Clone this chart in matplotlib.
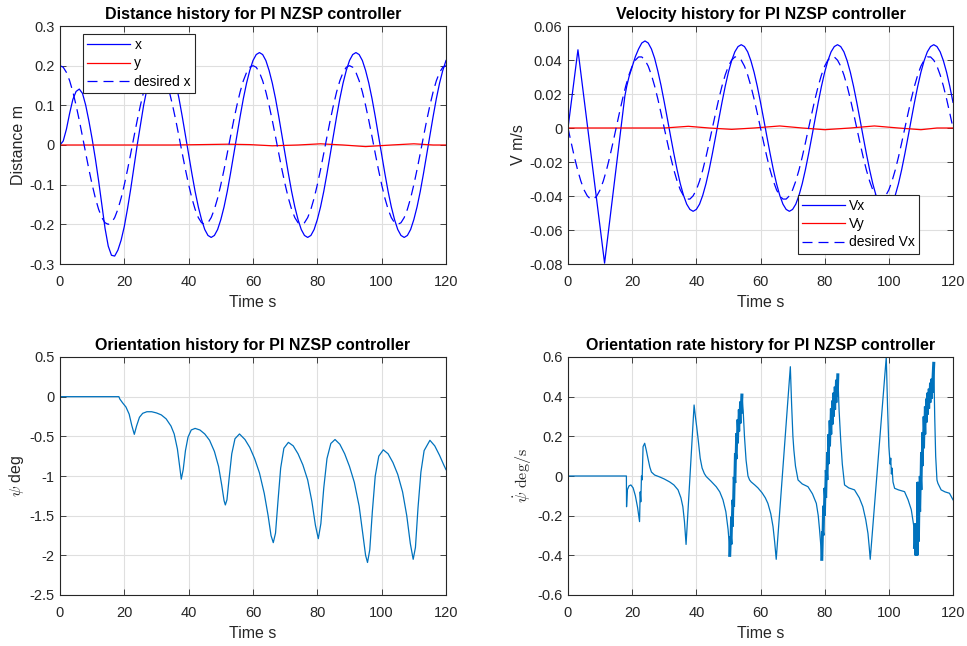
import numpy as np
import matplotlib
matplotlib.use('Agg')
import matplotlib.pyplot as plt
from matplotlib.ticker import FormatStrFormatter

plt.rcParams['font.family'] = ['Liberation Sans', 'DejaVu Sans']
plt.rcParams['mathtext.fontset'] = 'cm'
plt.rcParams['axes.unicode_minus'] = False

# ---- data ----
t_sec = np.arange(0, 121)  # 1 s grid, 0..120

x_pos = [
    0.000, 0.010, 0.040, 0.080, 0.115, 0.135, 0.141, 0.130, 0.100, 0.060,
    0.015, -0.035, -0.090, -0.150, -0.210, -0.255, -0.278, -0.280, -0.265, -0.240,
    -0.205, -0.160, -0.110, -0.055, 0.000, 0.050, 0.100, 0.140, 0.175, 0.205,
    0.223, 0.232, 0.233, 0.228, 0.213, 0.188, 0.156, 0.117, 0.072, 0.024,
    -0.024, -0.072, -0.117, -0.156, -0.188, -0.213, -0.228, -0.233, -0.228, -0.213,
    -0.188, -0.156, -0.117, -0.072, -0.024, 0.024, 0.072, 0.117, 0.156, 0.188,
    0.213, 0.228, 0.233, 0.228, 0.213, 0.188, 0.156, 0.117, 0.072, 0.024,
    -0.024, -0.072, -0.117, -0.156, -0.188, -0.213, -0.228, -0.233, -0.228, -0.213,
    -0.188, -0.156, -0.117, -0.072, -0.024, 0.024, 0.072, 0.117, 0.156, 0.188,
    0.213, 0.228, 0.233, 0.228, 0.213, 0.188, 0.156, 0.117, 0.072, 0.024,
    -0.024, -0.072, -0.117, -0.156, -0.188, -0.213, -0.228, -0.233, -0.228, -0.213,
    -0.188, -0.156, -0.117, -0.072, -0.024, 0.024, 0.072, 0.117, 0.156, 0.188,
    0.213]

x_des = [
    0.200, 0.196, 0.183, 0.162, 0.134, 0.100, 0.062, 0.021, -0.021, -0.062,
    -0.100, -0.134, -0.162, -0.183, -0.196, -0.200, -0.196, -0.183, -0.162, -0.134,
    -0.100, -0.062, -0.021, 0.021, 0.062, 0.100, 0.134, 0.162, 0.183, 0.196,
    0.200, 0.196, 0.183, 0.162, 0.134, 0.100, 0.062, 0.021, -0.021, -0.062,
    -0.100, -0.134, -0.162, -0.183, -0.196, -0.200, -0.196, -0.183, -0.162, -0.134,
    -0.100, -0.062, -0.021, 0.021, 0.062, 0.100, 0.134, 0.162, 0.183, 0.196,
    0.200, 0.196, 0.183, 0.162, 0.134, 0.100, 0.062, 0.021, -0.021, -0.062,
    -0.100, -0.134, -0.162, -0.183, -0.196, -0.200, -0.196, -0.183, -0.162, -0.134,
    -0.100, -0.062, -0.021, 0.021, 0.062, 0.100, 0.134, 0.162, 0.183, 0.196,
    0.200, 0.196, 0.183, 0.162, 0.134, 0.100, 0.062, 0.021, -0.021, -0.062,
    -0.100, -0.134, -0.162, -0.183, -0.196, -0.200, -0.196, -0.183, -0.162, -0.134,
    -0.100, -0.062, -0.021, 0.021, 0.062, 0.100, 0.134, 0.162, 0.183, 0.196,
    0.200]

y_pts = [(0, 0.0), (20, 0.0), (35, 0.0), (44, 0.001), (52, 0.002), (59, 0.001),
         (66, -0.002), (74, 0.0), (81, 0.003), (88, 0.0), (95, -0.004),
         (103, 0.0), (110, 0.003), (116, 0.0), (120, 0.0)]

# Vx: sharp start, then 1 s samples from t=19
vx_t = [0, 3.1, 11.4, 17.7, 18.3] + list(range(19, 121))
vx = [0.0, 0.046, -0.0795, 0.0185, 0.0245,
      0.030, 0.036, 0.042, 0.0465, 0.050,
      0.0512, 0.050, 0.0465, 0.041, 0.0335, 0.025, 0.0153, 0.0052, -0.0051, -0.0151,
      -0.0245, -0.0328, -0.0396, -0.0448, -0.0479,
      -0.049, -0.0479, -0.0448, -0.0396, -0.0328, -0.0245, -0.0151, -0.0051, 0.0051, 0.0151,
      0.0245, 0.0328, 0.0396, 0.0448, 0.0479,
      0.049, 0.0479, 0.0448, 0.0396, 0.0328, 0.0245, 0.0151, 0.0051, -0.0051, -0.0151,
      -0.0245, -0.0328, -0.0396, -0.0448, -0.0479,
      -0.049, -0.0479, -0.0448, -0.0396, -0.0328, -0.0245, -0.0151, -0.0051, 0.0051, 0.0151,
      0.0245, 0.0328, 0.0396, 0.0448, 0.0479,
      0.049, 0.0479, 0.0448, 0.0396, 0.0328, 0.0245, 0.0151, 0.0051, -0.0051, -0.0151,
      -0.0245, -0.0328, -0.0396, -0.0448, -0.0479,
      -0.049, -0.0479, -0.0448, -0.0396, -0.0328, -0.0245, -0.0151, -0.0051, 0.0051, 0.0151,
      0.0245, 0.0328, 0.0396, 0.0448, 0.0479,
      0.049, 0.0479, 0.0448, 0.0396, 0.0328, 0.0245, 0.0151]

vx_des = [
    0.0, -0.0087, -0.0171, -0.0247, -0.0312, -0.0364, -0.0399, -0.0418, -0.0418, -0.0399,
    -0.0364, -0.0312, -0.0247, -0.0171, -0.0087, 0.0, 0.0087, 0.0171, 0.0247, 0.0312,
    0.0364, 0.0399, 0.0418, 0.0418, 0.0399, 0.0364, 0.0312, 0.0247, 0.0171, 0.0087,
    0.0, -0.0087, -0.0171, -0.0247, -0.0312, -0.0364, -0.0399, -0.0418, -0.0418, -0.0399,
    -0.0364, -0.0312, -0.0247, -0.0171, -0.0087, 0.0, 0.0087, 0.0171, 0.0247, 0.0312,
    0.0364, 0.0399, 0.0418, 0.0418, 0.0399, 0.0364, 0.0312, 0.0247, 0.0171, 0.0087,
    0.0, -0.0087, -0.0171, -0.0247, -0.0312, -0.0364, -0.0399, -0.0418, -0.0418, -0.0399,
    -0.0364, -0.0312, -0.0247, -0.0171, -0.0087, 0.0, 0.0087, 0.0171, 0.0247, 0.0312,
    0.0364, 0.0399, 0.0418, 0.0418, 0.0399, 0.0364, 0.0312, 0.0247, 0.0171, 0.0087,
    0.0, -0.0087, -0.0171, -0.0247, -0.0312, -0.0364, -0.0399, -0.0418, -0.0418, -0.0399,
    -0.0364, -0.0312, -0.0247, -0.0171, -0.0087, 0.0, 0.0087, 0.0171, 0.0247, 0.0312,
    0.0364, 0.0399, 0.0418, 0.0418, 0.0399, 0.0364, 0.0312, 0.0247, 0.0171, 0.0087,
    0.0]

vy_pts = [(0, 0.0), (20, 0.0), (30, 0.0), (37.5, 0.001), (44, 0.0), (51, -0.0008),
          (58, 0.0), (66, 0.0012), (73, 0.0), (80, -0.001), (88, 0.0), (95.5, 0.0012),
          (103, 0.0), (110, -0.001), (115, 0.0), (120, 0.0)]

psi_pts = [
    (0, 0.0), (18.3, 0.0), (18.6, -0.03), (19.5, -0.08), (20.5, -0.13), (21.5, -0.22),
    (22.3, -0.36), (23.1, -0.475), (23.8, -0.37), (24.7, -0.26), (25.7, -0.21), (27, -0.19),
    (28.5, -0.19), (30, -0.205), (31.5, -0.23), (33, -0.28), (34.5, -0.37), (35.5, -0.47),
    (36.5, -0.66), (37.2, -0.88), (37.7, -1.04), (38.3, -0.92), (39, -0.68), (39.8, -0.51),
    (40.8, -0.42), (42, -0.40), (43.5, -0.42), (45, -0.47), (46.5, -0.55), (48, -0.69),
    (49.3, -0.88), (50.3, -1.12), (51, -1.31), (51.4, -1.365), (51.9, -1.30), (52.6, -1.02),
    (53.4, -0.72), (54.4, -0.53), (55.8, -0.47), (57.5, -0.54), (59, -0.64), (60.5, -0.78),
    (62, -0.96), (63.5, -1.22), (64.7, -1.50), (65.6, -1.75), (66.3, -1.84), (67, -1.72),
    (67.8, -1.30), (68.6, -0.90), (69.6, -0.65), (71, -0.576), (72.5, -0.62), (74, -0.72),
    (75.5, -0.86), (77, -1.05), (78.3, -1.32), (79.4, -1.62), (80.3, -1.79), (81.1, -1.60),
    (82, -1.15), (83, -0.78), (84.2, -0.59), (85.5, -0.54), (87, -0.60), (88.5, -0.72),
    (90, -0.88), (91.5, -1.08), (93, -1.38), (94.2, -1.75), (95, -2.00), (95.6, -2.09),
    (96.3, -1.93), (97.1, -1.45), (98, -1.00), (99.1, -0.75), (100.5, -0.67), (102, -0.72),
    (103.5, -0.83), (105, -0.98), (106.5, -1.20), (107.8, -1.50), (108.9, -1.85),
    (109.8, -2.05), (110.5, -1.90), (111.3, -1.40), (112.2, -0.95), (113.2, -0.68),
    (115, -0.55), (116.5, -0.62), (118, -0.74), (119.3, -0.86), (120, -0.92)]

# orientation rate, smooth parts
psid_a = [
    (0, 0.0), (18.2, 0.0), (18.25, -0.155), (18.5, -0.07), (19.0, -0.05), (19.6, -0.045),
    (20.3, -0.06), (21.0, -0.10), (21.7, -0.16), (22.3, -0.23), (22.5, -0.08), (22.7, -0.13),
    (22.9, 0.0), (23.1, -0.02), (23.4, 0.148), (23.9, 0.165), (24.4, 0.13), (24.9, 0.09),
    (25.5, 0.045), (26.0, 0.02), (27.0, 0.005), (28.6, -0.005), (30.0, -0.015), (31.7, -0.03),
    (33.0, -0.045), (34.3, -0.07), (35.2, -0.11), (35.8, -0.155), (36.3, -0.23), (36.8, -0.345),
    (39.3, 0.358), (39.7, 0.30), (40.1, 0.25), (40.6, 0.18), (41.2, 0.09), (41.8, 0.04),
    (42.5, 0.012), (43.1, -0.003), (44.5, -0.025), (46.2, -0.054), (47.3, -0.08),
    (48.3, -0.12), (49.2, -0.18), (49.9, -0.27), (50.2, -0.33)]
psid_b = [
    (54.6, 0.33), (55.0, 0.20), (55.5, 0.08), (56.1, 0.0), (56.6, -0.02), (57.1, -0.03),
    (58.2, -0.045), (59.2, -0.06), (60.5, -0.085), (61.5, -0.11), (62.3, -0.138),
    (63.2, -0.19), (63.9, -0.255), (64.4, -0.33), (64.9, -0.42),
    (69.3, 0.551), (69.7, 0.36), (70.1, 0.20), (70.4, 0.131), (70.9, 0.05), (71.7, -0.02),
    (73.0, -0.04), (74.8, -0.054), (76.2, -0.09), (77.4, -0.138), (78.0, -0.20),
    (78.4, -0.27), (78.8, -0.35)]
psid_c = [
    (84.5, 0.33), (85.0, 0.18), (85.5, 0.06), (86.2, -0.045), (87.5, -0.06), (89.3, -0.07),
    (90.8, -0.11), (91.9, -0.155), (92.8, -0.22), (93.5, -0.29), (93.9, -0.36), (94.2, -0.42),
    (99.2, 0.60), (99.6, 0.35), (100.0, 0.15), (100.4, 0.06), (100.6, 0.09), (100.8, 0.01),
    (101.0, 0.04), (101.3, -0.03), (101.8, -0.062), (103.0, -0.07), (104.9, -0.079),
    (106.0, -0.12), (107.0, -0.17), (107.8, -0.255)]
psid_d = [
    (114.3, 0.30), (114.6, 0.10), (115.0, -0.02), (115.3, -0.037), (116.3, -0.07),
    (117.5, -0.08), (118.9, -0.087), (120, -0.12)]

# orientation rate, chattering ramps
chat1 = [
    (50.4, -0.40), (50.6, -0.305), (50.8, -0.345), (51.0, -0.205), (51.2, -0.255),
    (51.4, -0.12), (51.6, -0.155), (51.8, -0.005), (52.0, -0.035), (52.2, 0.115),
    (52.4, 0.085), (52.6, 0.215), (52.8, 0.165), (53.0, 0.285), (53.2, 0.225),
    (53.4, 0.335), (53.6, 0.265), (53.8, 0.375), (54.0, 0.315), (54.2, 0.408)]
chat2 = [
    (79.1, -0.42), (79.3, -0.28), (79.5, -0.30), (79.7, -0.15), (79.9, -0.20),
    (80.1, -0.06), (80.3, -0.11), (80.5, 0.03), (80.7, -0.02), (80.9, 0.12),
    (81.1, 0.06), (81.3, 0.21), (81.5, 0.15), (81.7, 0.28), (81.9, 0.21),
    (82.1, 0.34), (82.3, 0.26), (82.5, 0.38), (82.7, 0.30), (82.9, 0.42),
    (83.1, 0.335), (83.3, 0.45), (83.5, 0.37), (83.7, 0.485), (83.9, 0.40), (84.1, 0.51)]
chat3 = [
    (108.0, -0.36), (108.2, -0.24), (108.4, -0.40), (108.6, -0.27), (108.8, -0.40),
    (109.0, -0.28), (109.1, -0.03), (109.2, -0.33), (109.4, -0.10), (109.6, -0.18),
    (109.8, 0.0), (110.0, -0.07), (110.2, 0.12), (110.4, 0.05), (110.6, 0.22),
    (110.8, 0.14), (111.0, 0.30), (111.2, 0.21), (111.4, 0.35), (111.6, 0.27),
    (111.8, 0.39), (112.0, 0.31), (112.2, 0.42), (112.4, 0.34), (112.6, 0.44),
    (112.8, 0.37), (113.0, 0.47), (113.2, 0.39), (113.4, 0.49), (113.6, 0.42),
    (113.8, 0.50), (114.0, 0.568)]

x_ticks = [0, 20, 40, 60, 80, 100, 120]
dist_ticks = [-0.3, -0.2, -0.1, 0, 0.1, 0.2, 0.3]
vel_ticks = [-0.08, -0.06, -0.04, -0.02, 0, 0.02, 0.04, 0.06]
psi_ticks = [-2.5, -2, -1.5, -1, -0.5, 0, 0.5]
psid_ticks = [-0.6, -0.4, -0.2, 0, 0.2, 0.4, 0.6]

# ---- figure ----
W, H = 967, 646
fig = plt.figure(figsize=(W / 100, H / 100), dpi=100)

def px_axes(l, t, r, b):
    return fig.add_axes([l / W, 1 - b / H, (r - l) / W, (b - t) / H])

ax1 = px_axes(60, 26, 446, 264)
ax2 = px_axes(568, 26, 953, 264)
ax3 = px_axes(60, 357, 446, 595)
ax4 = px_axes(568, 357, 953, 595)

dark = '#262626'
blue = '#0000ff'
red = '#ff0000'
mblue = '#0072bd'
dash = (8, 4.8)

def style(ax, title, ylabel, yticks):
    ax.set_xlim(0, 120)
    ax.set_ylim(yticks[0], yticks[-1])
    ax.set_xticks(x_ticks)
    ax.set_yticks(yticks)
    ax.yaxis.set_major_formatter(FormatStrFormatter('%g'))
    ax.grid(True, color='#dfdfdf', lw=0.8)
    ax.set_axisbelow(True)
    ax.tick_params(direction='in', top=True, right=True, length=4, width=0.6,
                   colors=dark, labelsize=10.5)
    ax.tick_params(axis='x', pad=8)
    ax.tick_params(axis='y', pad=4)
    for sp in ax.spines.values():
        sp.set_color(dark)
        sp.set_linewidth(0.8)
    ax.set_title(title, fontsize=11.5, fontweight='bold', pad=5)
    ax.set_xlabel('Time s', fontsize=11.5, color=dark, labelpad=4)
    ax.set_ylabel(ylabel, fontsize=11.5, color=dark, labelpad=2)

leg_kw = dict(fontsize=10, frameon=True, fancybox=False, framealpha=1,
              edgecolor=dark, handlelength=3.1, handletextpad=0.3,
              borderpad=0.3, labelspacing=0.3, borderaxespad=0)

# Distance
y_arr = np.array(y_pts)
ax1.plot(t_sec, x_pos, color=blue, lw=0.9, label='x')
ax1.plot(y_arr[:, 0], y_arr[:, 1], color=red, lw=0.9, label='y')
ax1.plot(t_sec, x_des, color=blue, lw=0.9, dashes=dash, label='desired x')
style(ax1, 'Distance history for PI NZSP controller', 'Distance m', dist_ticks)
lg = ax1.legend(loc='upper left', bbox_to_anchor=(0.0596, 0.966), **leg_kw)
lg.get_frame().set_linewidth(0.8)

# Velocity
vy_arr = np.array(vy_pts)
ax2.plot(vx_t, vx, color=blue, lw=0.9, label='Vx')
ax2.plot(vy_arr[:, 0], vy_arr[:, 1], color=red, lw=0.9, label='Vy')
ax2.plot(t_sec, vx_des, color=blue, lw=0.9, dashes=dash, label='desired Vx')
style(ax2, 'Velocity history for PI NZSP controller', 'V m/s', vel_ticks)
lg = ax2.legend(loc='upper left', bbox_to_anchor=(0.597, 0.29), **leg_kw)
lg.get_frame().set_linewidth(0.8)

# Orientation
psi_arr = np.array(psi_pts)
ax3.plot(psi_arr[:, 0], psi_arr[:, 1], color=mblue, lw=0.9)
style(ax3, 'Orientation history for PI NZSP controller', r'$\psi$ deg', psi_ticks)

# Orientation rate
psid_arr = np.array(psid_a + chat1 + psid_b + chat2 + psid_c + chat3 + psid_d)
ax4.plot(psid_arr[:, 0], psid_arr[:, 1], color=mblue, lw=0.9)
for seg in (chat1, chat2, chat3):
    s = np.array(seg)
    ax4.plot(s[:, 0], s[:, 1], color=mblue, lw=2.2, solid_joinstyle='miter')
style(ax4, 'Orientation rate history for PI NZSP controller',
      r'$\dot{\psi}\ \mathrm{deg/s}$', psid_ticks)

fig.savefig('out.png', dpi=100)
